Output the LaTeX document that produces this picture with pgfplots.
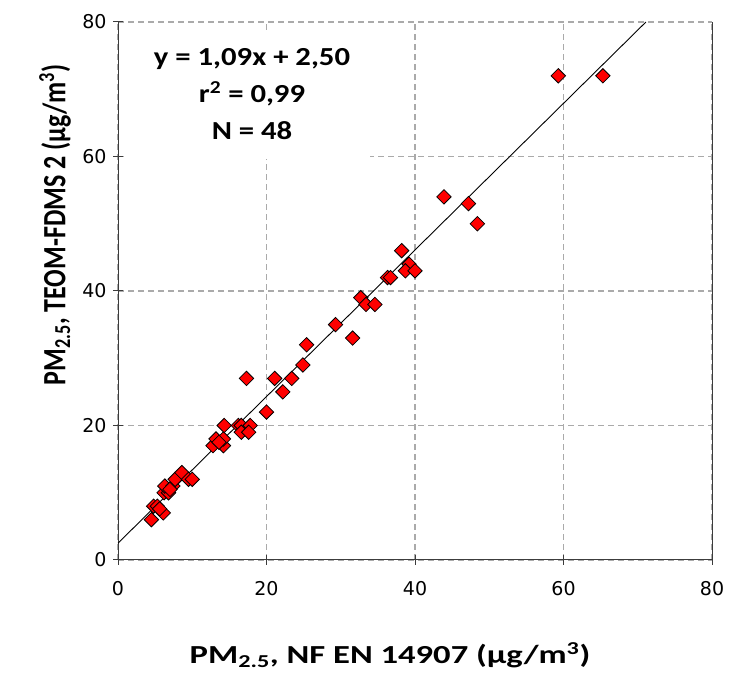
\documentclass[border=0pt]{standalone}
\usepackage{pgfplots}
\pgfplotsset{compat=1.18}
\usepackage{fontspec}
\setmainfont{Carlito}
\newfontfamily\tickfont{DejaVu Sans}
\definecolor{gridgray}{RGB}{170,170,170}
\definecolor{axisgray}{RGB}{60,60,60}
\begin{document}
\begin{tikzpicture}
\begin{axis}[
  name=ax,
  scale only axis, width=594pt, height=538pt,
  xmin=0, xmax=80, ymin=0, ymax=80,
  xtick={0,20,...,80}, ytick={0,20,...,80},
  axis x line*=bottom, axis y line*=box,
  ytick pos=left,
  x axis line style={-}, y axis line style={-},
  axis line style={axisgray, line width=1pt},
  tick align=center, major tick length=10pt,
  tick style={axisgray, line width=1pt},
  grid=major,
  major grid style={gridgray, dash pattern=on 6pt off 4pt, line width=1.3pt},
  /pgf/number format/assume math mode=true,
  ticklabel style={font=\tickfont\fontsize{19}{22}\selectfont, text=black},
  xticklabel style={yshift=-13pt},
  yticklabel style={xshift=-3pt},
  xlabel={\scalebox{1.33}[1]{\bfseries PM\textsubscript{2.5}, NF EN 14907 (µg/m\textsuperscript{3})}},
  ylabel={\scalebox{1}[1.25]{\bfseries PM\textsubscript{2.5}, TEOM-FDMS 2 (µg/m\textsuperscript{3})}},
  xlabel style={font=\fontsize{26}{30}\selectfont, at={(rel axis cs:0.458,0)}, anchor=center, yshift=-95pt},
  ylabel style={font=\fontsize{26}{30}\selectfont, at={(rel axis cs:0,0.623)}, anchor=center, yshift=63pt},
  clip=false,
]
\fill[white] (axis cs:1,59.6) rectangle (axis cs:34,78.8);
\node[align=center, font=\bfseries\fontsize{26}{37}\selectfont] at (axis cs:18.05,69.3)
  {\scalebox{1.18}[1]{y = 1,09x + 2,50}\\ \scalebox{1.18}[1]{r\textsuperscript{2} = 0,99}\\ \scalebox{1.18}[1]{N = 48}};
\addplot[black, line width=0.9pt] coordinates {(0,2.5) (71.1,80)};
\addplot[only marks, mark=square*, mark size=5.1pt,
  mark options={rotate=45, fill=red, draw=black, line width=0.8pt}]
  coordinates {
  (4.5,6) (4.8,8) (5.3,8) (6.1,7) (5.6,7.6) (6.2,10) (6.8,10) (6.3,11) (7.4,11)
  (7.0,10.5) (7.7,12) (8.6,13) (9.5,12) (10.0,12)
  (12.8,17) (14.2,17) (13.2,18) (14.2,18) (13.6,17.5) (14.3,20) (16.2,20) (16.6,20) (17.8,20)
  (16.6,19) (17.6,19) (20.0,22)
  (17.3,27) (21.1,27) (23.4,27) (22.2,25) (24.9,29) (25.4,32)
  (29.3,35) (31.6,33) (32.7,39) (33.4,38) (34.6,38)
  (36.3,42) (36.7,42) (38.2,46) (39.2,44) (38.7,43) (40.0,43)
  (43.9,54) (47.2,53) (48.4,50) (59.3,72) (65.3,72)
  };
\end{axis}
\pgfresetboundingbox
\path ([shift={(-118pt,-120pt)}]ax.south west) rectangle ([shift={(22pt,22pt)}]ax.north east);
\end{tikzpicture}
\end{document}
